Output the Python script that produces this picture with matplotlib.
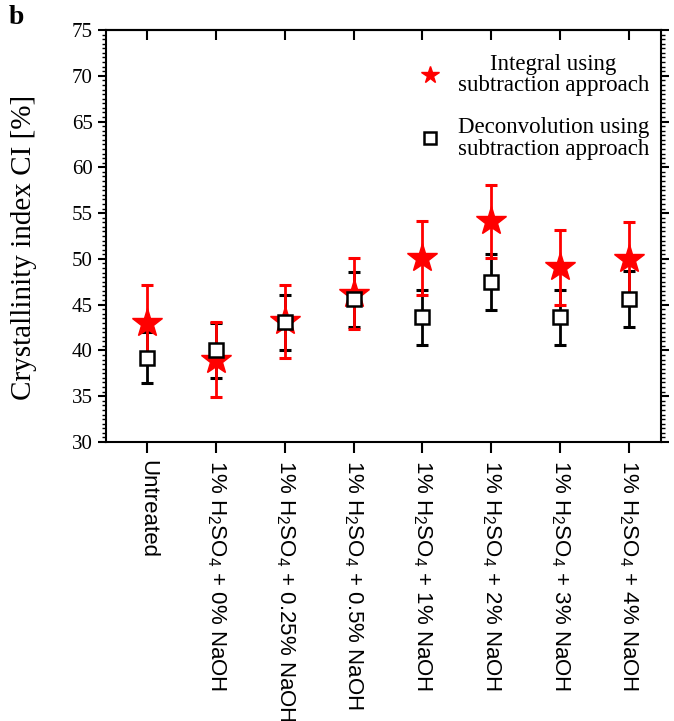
import matplotlib
matplotlib.use("Agg")
import matplotlib.pyplot as plt
import numpy as np
from matplotlib.ticker import MultipleLocator
from matplotlib.lines import Line2D

plt.rcParams['font.family'] = ['Liberation Serif', 'DejaVu Serif']
plt.rcParams['mathtext.fontset'] = 'custom'
plt.rcParams['mathtext.rm'] = 'Liberation Sans'

# data
categories = ['Untreated',
              '1% H$\\mathregular{_2}$SO$\\mathregular{_4}$ + 0% NaOH',
              '1% H$\\mathregular{_2}$SO$\\mathregular{_4}$ + 0.25% NaOH',
              '1% H$\\mathregular{_2}$SO$\\mathregular{_4}$ + 0.5% NaOH',
              '1% H$\\mathregular{_2}$SO$\\mathregular{_4}$ + 1% NaOH',
              '1% H$\\mathregular{_2}$SO$\\mathregular{_4}$ + 2% NaOH',
              '1% H$\\mathregular{_2}$SO$\\mathregular{_4}$ + 3% NaOH',
              '1% H$\\mathregular{_2}$SO$\\mathregular{_4}$ + 4% NaOH']
ci_integral = [43.0, 39.0, 43.2, 46.2, 50.1, 54.1, 49.1, 50.0]
err_integral = [4.2, 4.1, 4.0, 3.9, 4.0, 4.0, 4.1, 4.0]
ci_deconv = [39.2, 40.0, 43.1, 45.6, 43.6, 47.5, 43.6, 45.6]
err_deconv = [2.8, 3.0, 3.0, 3.0, 3.0, 3.05, 3.0, 3.05]

x = np.arange(len(categories))

fig = plt.figure(figsize=(6.74, 7.21), dpi=100)
ax = fig.add_axes([0.1573, 0.387, 0.8234, 0.5714])

# black error bars first, then the red stars, squares on top
ax.errorbar(x, ci_deconv, yerr=err_deconv, fmt='none', ecolor='black',
            elinewidth=2, capsize=4.5, capthick=2.2, zorder=2)
ax.errorbar(x, ci_integral, yerr=err_integral, fmt='none', ecolor='red',
            elinewidth=2, capsize=4, capthick=2.2, zorder=3)
ax.plot(x, ci_integral, '*', ms=22, color='red', mec='red', zorder=3)
ax.plot(x, ci_deconv, 's', ms=10, mfc='white', mec='black', mew=1.8, zorder=4)

ax.set_xlim(-0.6, 7.47)
ax.set_ylim(30, 75)
ax.yaxis.set_major_locator(MultipleLocator(5))
ax.yaxis.set_minor_locator(MultipleLocator(0.5))
ax.set_xticks(x)
ax.set_xticklabels(categories, rotation=270, ha='center', va='top',
                   family='Liberation Sans', fontsize=16)
ax.tick_params(axis='y', which='major', direction='out', length=5.5, width=1.5,
               right=True, labelsize=15, pad=4)
ax.tick_params(axis='y', which='minor', direction='out', length=3, width=1,
               right=True)
ax.tick_params(axis='x', which='major', direction='out', length=8, width=1.5,
               pad=5)
for sp in ax.spines.values():
    sp.set_linewidth(1.5)

# top ticks point inwards
top = ax.secondary_xaxis('top')
top.set_xticks(x)
top.set_xticklabels([])
top.tick_params(direction='in', length=7, width=1.5)
top.spines['top'].set_linewidth(1.5)

ax.set_ylabel('Crystallinity index CI [%]', fontsize=21)
ax.yaxis.set_label_coords(-0.125, 0.473)

handles = [Line2D([], [], ls='none', marker='*', ms=13, color='red'),
           Line2D([], [], ls='none', marker='s', ms=9, mfc='white',
                  mec='black', mew=1.8)]
labels = ['Integral using\nsubtraction approach',
          'Deconvolution using\nsubtraction approach']
leg = ax.legend(handles, labels, loc='upper right', frameon=False, fontsize=16.5,
                handletextpad=0.7, labelspacing=0.9, borderaxespad=0.0,
                handlelength=1.0, bbox_to_anchor=(0.995, 0.965))
for t in leg.get_texts():
    t.set_multialignment('center')
    t.set_linespacing(1.05)

fig.text(0.013, 0.993, 'b', fontsize=20, fontweight='bold', va='top')

fig.savefig('out.png', dpi=100)
